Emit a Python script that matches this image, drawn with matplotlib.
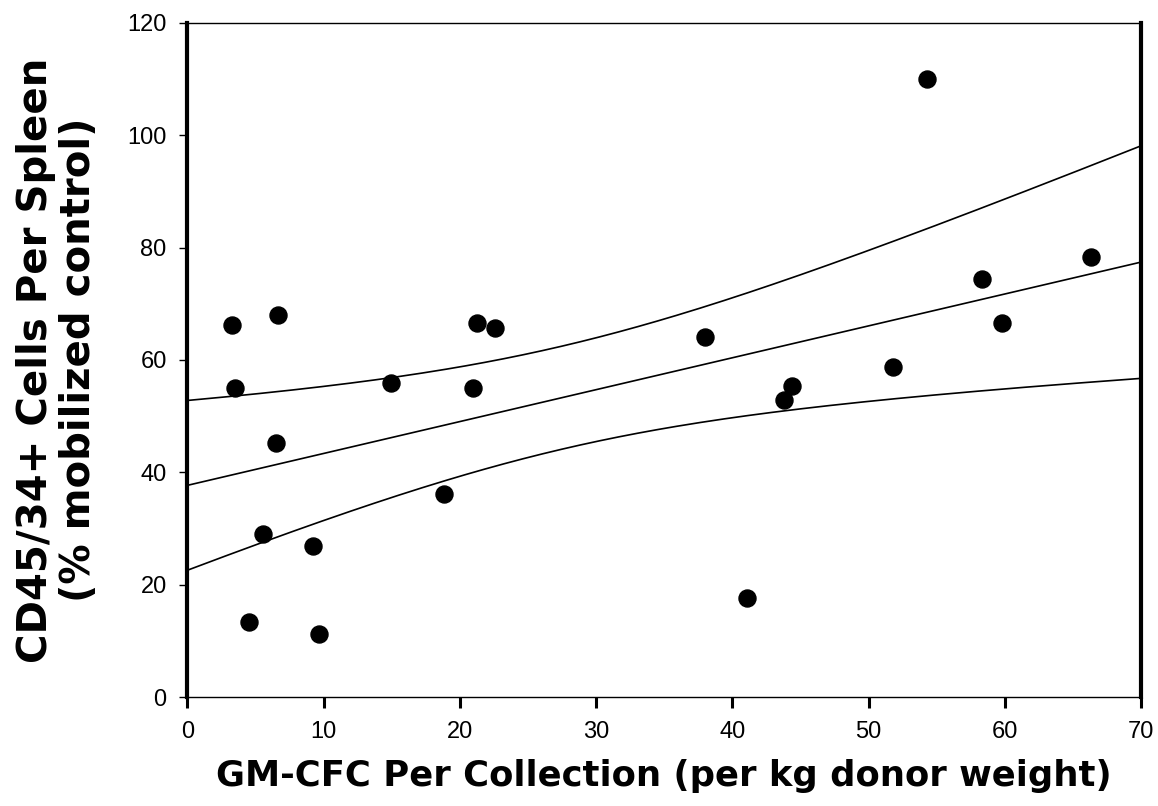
import numpy as np
import matplotlib.pyplot as plt

# GM-CFC per collection vs CD45/34+ cells per spleen
gm_cfc = [3.24, 3.48, 6.62, 6.47, 5.54, 4.53, 9.19, 9.67, 14.93, 18.84, 20.95,
          21.22, 22.54, 38.02, 41.1, 43.79, 44.35, 51.81, 54.3, 58.31, 59.78, 66.36]
cd45_34 = [66.3, 55.0, 68.0, 45.3, 29.05, 13.3, 26.9, 11.3, 55.9, 36.2, 55.1,
           66.5, 65.7, 64.1, 17.6, 52.8, 55.4, 58.8, 110.1, 74.5, 66.5, 78.25]

x_ticks = [0, 10, 20, 30, 40, 50, 60, 70]
y_ticks = [0, 20, 40, 60, 80, 100, 120]

plt.rcParams['font.family'] = ['Liberation Sans', 'DejaVu Sans']


def fit_with_band(x, y, xs):
    # linear regression + 95% confidence band of the mean
    x = np.asarray(x)
    y = np.asarray(y)
    n = len(x)
    b, a = np.polyfit(x, y, 1)
    resid = y - (a + b * x)
    s = np.sqrt(np.sum(resid ** 2) / (n - 2))
    sxx = np.sum((x - x.mean()) ** 2)
    t = 2.086  # t(0.975, df=20)
    yfit = a + b * xs
    half = t * s * np.sqrt(1.0 / n + (xs - x.mean()) ** 2 / sxx)
    return yfit, yfit - half, yfit + half


fig = plt.figure(figsize=(11.58, 8.06), dpi=100)
ax = fig.add_axes([0.1619, 0.1352, 0.8234, 0.8363])

xs = np.linspace(0, 70, 200)
yfit, lo, hi = fit_with_band(gm_cfc, cd45_34, xs)
ax.plot(xs, yfit, color='black', lw=1.2)
ax.plot(xs, lo, color='black', lw=1.2)
ax.plot(xs, hi, color='black', lw=1.2)

ax.scatter(gm_cfc, cd45_34, s=150, color='black', zorder=3)

ax.set_xlim(0, 70)
ax.set_ylim(0, 120)
ax.set_xticks(x_ticks)
ax.set_yticks(y_ticks)

ax.spines['left'].set_linewidth(3)
ax.spines['right'].set_linewidth(3)
ax.spines['top'].set_linewidth(1)
ax.spines['bottom'].set_linewidth(1)

ax.tick_params(axis='y', direction='out', length=6, width=1, pad=9, labelsize=17)
ax.tick_params(axis='x', direction='out', length=8, width=2.2, pad=9, labelsize=17)

ax.set_xlabel('GM-CFC Per Collection (per kg donor weight)', fontsize=25.5,
              fontweight='bold', family='DejaVu Sans', labelpad=12)
ax.set_ylabel('CD45/34+ Cells Per Spleen\n(% mobilized control)', fontsize=29,
              fontweight='bold', family='DejaVu Sans', labelpad=20, linespacing=1.1)

fig.savefig('out.png', dpi=100)
